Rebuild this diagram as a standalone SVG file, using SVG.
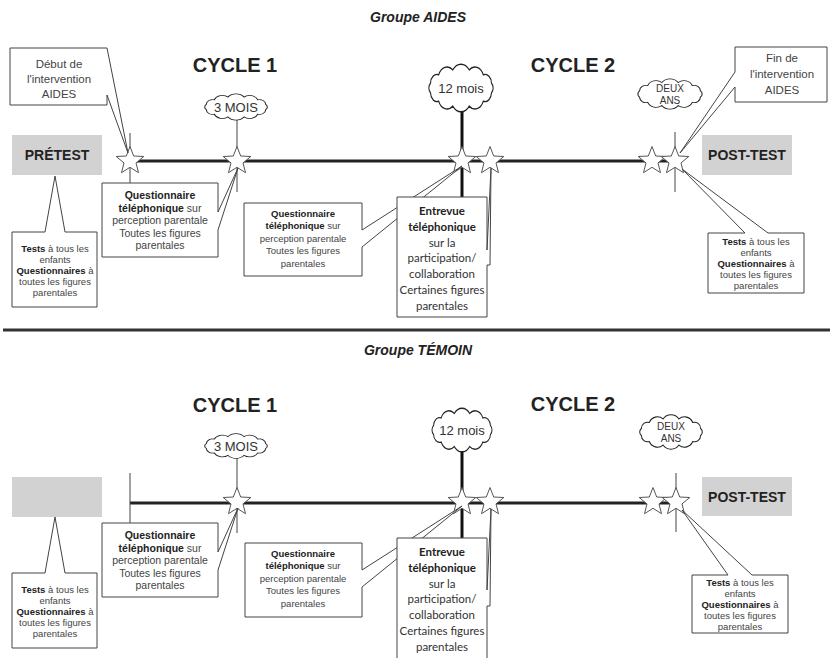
<svg xmlns="http://www.w3.org/2000/svg" xmlns:xlink="http://www.w3.org/1999/xlink" width="830" height="658" viewBox="0 0 830 658">
  <style>
    .title { font-family: "Liberation Sans", Arial, sans-serif; font-size: 14px; font-weight: bold; font-style: italic; fill: #222; text-anchor: middle; }
    .cycle { font-family: "Liberation Sans", Arial, sans-serif; font-size: 20px; font-weight: bold; fill: #222; text-anchor: middle; }
    .test { font-family: "Liberation Sans", Arial, sans-serif; font-size: 14px; font-weight: bold; fill: #222; text-anchor: middle; }
    .cloudtxt { font-family: "Liberation Sans", Arial, sans-serif; font-size: 13px; fill: #333; text-anchor: middle; }
    .small { font-family: "Liberation Sans", Arial, sans-serif; font-size: 10px; fill: #333; text-anchor: middle; }
    .note { font-family: "Liberation Sans", Arial, sans-serif; fill: #444; text-anchor: middle; }
    .entre { font-family: Lato, "Liberation Sans", sans-serif; font-size: 11.5px; fill: #333; text-anchor: middle; }
    .b { font-weight: bold; fill: #222; }
    .callout { fill: #fff; stroke: #444; stroke-width: 1; stroke-linejoin: miter; }
    .grey { fill: #d2d2d2; }
    .tick { stroke: #444; stroke-width: 1; fill: none; }
    .thick { stroke: #111; stroke-width: 3; fill: none; }
    .timeline { stroke: #222; stroke-width: 3; fill: none; }
    .star { fill: #fff; stroke: #555; stroke-width: 1; }
    .cloud { fill: #fff; stroke: #222; stroke-width: 1.4; vector-effect: non-scaling-stroke; }
  </style>
  <defs>
    <path id="star" d="M0,-14.5 L3.7,-5 L13.8,-4.5 L6,1.9 L8.5,11.7 L0,6.3 L-8.5,11.7 L-6,1.9 L-13.8,-4.5 L-3.7,-5 Z"/>
    <path id="cloud" d="M-40.6,-4.7 A8.5,8.5 0 0 1 -29.7,-12.7 A12,12 0 0 1 -10.9,-17.4 A13.5,13.5 0 0 1 10.9,-17.4 A12,12 0 0 1 29.7,-12.7 A8.5,8.5 0 0 1 40.6,-4.7 A6,6 0 0 1 40.6,4.7 A8.5,8.5 0 0 1 29.7,12.7 A12,12 0 0 1 10.9,17.4 A13.5,13.5 0 0 1 -10.9,17.4 A12,12 0 0 1 -29.7,12.7 A8.5,8.5 0 0 1 -40.6,4.7 A6,6 0 0 1 -40.6,-4.7 Z"/>
  </defs>

  <!-- headings and group separator -->
  <text class="title" x="418" y="22">Groupe AIDES</text>
  <text class="title" x="418" y="355">Groupe TÉMOIN</text>
  <line x1="3" y1="330" x2="830" y2="330" stroke="#333" stroke-width="3"/>

  <!-- timelines and marker lines -->
  <g id="connectors">
    <line class="timeline" x1="130" y1="161" x2="675" y2="161"/>
    <line class="tick" x1="130" y1="133" x2="130" y2="184"/>
    <line class="tick" x1="237" y1="120" x2="237" y2="192"/>
    <line class="thick" x1="462" y1="112" x2="462" y2="197"/>
    <line class="tick" x1="675" y1="132" x2="675" y2="192"/>

    <line class="timeline" x1="130" y1="503" x2="676" y2="503"/>
    <line class="tick" x1="130" y1="473" x2="130" y2="523"/>
    <line class="tick" x1="237" y1="457" x2="237" y2="533"/>
    <line class="thick" x1="462" y1="452" x2="462" y2="538"/>
    <line class="tick" x1="676" y1="473" x2="676" y2="532"/>
  </g>

  <!-- AIDES group -->
  <g id="aides-cycle-labels">
    <text class="cycle" x="235" y="72">CYCLE 1</text>
    <text class="cycle" x="573" y="72">CYCLE 2</text>
  </g>
  <g id="aides-stars">
    <use xlink:href="#star" class="star" x="130" y="161"/>
    <use xlink:href="#star" class="star" x="237" y="161"/>
    <use xlink:href="#star" class="star" x="462" y="161"/>
    <use xlink:href="#star" class="star" x="490" y="161"/>
    <use xlink:href="#star" class="star" x="652" y="161"/>
    <use xlink:href="#star" class="star" x="675" y="161"/>
  </g>
  <g id="aides-3mois">
    <use xlink:href="#cloud" class="cloud" transform="translate(236,107) scale(0.73,0.57)"/>
    <text class="cloudtxt" x="236" y="112">3 MOIS</text>
  </g>
  <g id="aides-12mois">
    <use xlink:href="#cloud" class="cloud" transform="translate(461,88) scale(0.75,1.04)"/>
    <text class="cloudtxt" x="461" y="93">12 mois</text>
  </g>
  <g id="aides-deuxans">
    <use xlink:href="#cloud" class="cloud" transform="translate(670,94) scale(0.75,0.66)"/>
    <text class="small" x="670" y="92">DEUX</text>
    <text class="small" x="670" y="104">ANS</text>
  </g>
  <g id="aides-pretest">
    <rect class="grey" x="12" y="135" width="90" height="40"/>
    <text class="test" x="57" y="160">PRÉTEST</text>
  </g>
  <g id="aides-posttest">
    <rect class="grey" x="702" y="135" width="90" height="40"/>
    <text class="test" x="747" y="160">POST-TEST</text>
  </g>
  <g id="aides-debut">
    <path class="callout" d="M10,48 L107,48 L128,153 L107,95 L107,105 L10,105 Z"/>
    <text class="note" font-size="11.5" x="59" y="68">Début de</text>
    <text class="note" font-size="11.5" x="59" y="83">l'intervention</text>
    <text class="note" font-size="11.5" x="59" y="98">AIDES</text>
  </g>
  <g id="aides-fin">
    <path class="callout" d="M735,47 L827,47 L827,102 L735,102 L735,87 L680,153 L735,72 Z"/>
    <text class="note" font-size="11.5" x="782" y="62">Fin de</text>
    <text class="note" font-size="11.5" x="782" y="78">l'intervention</text>
    <text class="note" font-size="11.5" x="782" y="94">AIDES</text>
  </g>
  <g id="aides-tests-pre">
    <path class="callout" d="M12,232 L45,232 L55,176 L65,232 L97,232 L97,307 L12,307 Z"/>
    <text class="note" font-size="9.5" x="55" y="251.5"><tspan class="b">Tests</tspan> à tous les</text>
    <text class="note" font-size="9.5" x="55" y="262.5">enfants</text>
    <text class="note" font-size="9.5" x="55" y="273.5"><tspan class="b">Questionnaires</tspan> à</text>
    <text class="note" font-size="9.5" x="55" y="284.5">toutes les figures</text>
    <text class="note" font-size="9.5" x="55" y="295.5">parentales</text>
  </g>
  <g id="aides-quest-3mois">
    <path class="callout" d="M102,183 L218,183 L218,212 L238,168 L218,230 L218,257 L102,257 Z"/>
    <text class="note" font-size="10.5" x="160" y="199"><tspan class="b">Questionnaire</tspan></text>
    <text class="note" font-size="10.5" x="160" y="211.5"><tspan class="b">téléphonique</tspan> sur</text>
    <text class="note" font-size="10.5" x="160" y="224">perception parentale</text>
    <text class="note" font-size="10.5" x="160" y="236.5">Toutes les figures</text>
    <text class="note" font-size="10.5" x="160" y="249">parentales</text>
  </g>
  <g id="aides-quest-12mois">
    <path class="callout" d="M244,203 L362,203 L362,230 L462,166 L362,247 L362,276 L244,276 Z"/>
    <text class="note" font-size="9.5" x="303" y="216.5"><tspan class="b">Questionnaire</tspan></text>
    <text class="note" font-size="9.5" x="303" y="229"><tspan class="b">téléphonique</tspan> sur</text>
    <text class="note" font-size="9.5" x="303" y="241.5">perception parentale</text>
    <text class="note" font-size="9.5" x="303" y="254">Toutes les figures</text>
    <text class="note" font-size="9.5" x="303" y="266.5">parentales</text>
  </g>
  <g id="aides-entrevue">
    <path class="callout" d="M397,197 L487,197 L487,250 L491,168 L490,265 L487,265 L487,317 L397,317 Z"/>
    <text class="entre b" x="442" y="215">Entrevue</text>
    <text class="entre b" x="442" y="231">téléphonique</text>
    <text class="entre" x="442" y="247">sur la</text>
    <text class="entre" x="442" y="262">participation/</text>
    <text class="entre" x="442" y="278">collaboration</text>
    <text class="entre" x="442" y="294">Certaines figures</text>
    <text class="entre" x="442" y="310">parentales</text>
  </g>
  <g id="aides-tests-post">
    <path class="callout" d="M708,233 L745,233 L682,169 L768,233 L804,233 L804,293 L708,293 Z"/>
    <text class="note" font-size="9.5" x="756" y="244.5"><tspan class="b">Tests</tspan> à tous les</text>
    <text class="note" font-size="9.5" x="756" y="255.5">enfants</text>
    <text class="note" font-size="9.5" x="756" y="266.5"><tspan class="b">Questionnaires</tspan> à</text>
    <text class="note" font-size="9.5" x="756" y="277.5">toutes les figures</text>
    <text class="note" font-size="9.5" x="756" y="288.5">parentales</text>
  </g>

  <!-- TÉMOIN group -->
  <g id="temoin-cycle-labels">
    <text class="cycle" x="235" y="412">CYCLE 1</text>
    <text class="cycle" x="573" y="411">CYCLE 2</text>
  </g>
  <g id="temoin-stars">
    <use xlink:href="#star" class="star" x="237" y="502"/>
    <use xlink:href="#star" class="star" x="462" y="502"/>
    <use xlink:href="#star" class="star" x="490" y="502"/>
    <use xlink:href="#star" class="star" x="653" y="502"/>
    <use xlink:href="#star" class="star" x="676" y="502"/>
  </g>
  <g id="temoin-3mois">
    <use xlink:href="#cloud" class="cloud" transform="translate(236,446) scale(0.73,0.54)"/>
    <text class="cloudtxt" x="236" y="451">3 MOIS</text>
  </g>
  <g id="temoin-12mois">
    <use xlink:href="#cloud" class="cloud" transform="translate(462,430) scale(0.7,0.95)"/>
    <text class="cloudtxt" x="462" y="435">12 mois</text>
  </g>
  <g id="temoin-deuxans">
    <use xlink:href="#cloud" class="cloud" transform="translate(671,432) scale(0.73,0.75)"/>
    <text class="small" x="671" y="430">DEUX</text>
    <text class="small" x="671" y="442">ANS</text>
  </g>
  <g id="temoin-pretest">
    <rect class="grey" x="12" y="477" width="90" height="40"/>
  </g>
  <g id="temoin-posttest">
    <rect class="grey" x="702" y="477" width="90" height="39"/>
    <text class="test" x="747" y="502">POST-TEST</text>
  </g>
  <g id="temoin-tests-pre">
    <path class="callout" d="M12,573 L45,573 L55,517 L65,573 L97,573 L97,648 L12,648 Z"/>
    <text class="note" font-size="9.5" x="55" y="592.5"><tspan class="b">Tests</tspan> à tous les</text>
    <text class="note" font-size="9.5" x="55" y="603.5">enfants</text>
    <text class="note" font-size="9.5" x="55" y="614.5"><tspan class="b">Questionnaires</tspan> à</text>
    <text class="note" font-size="9.5" x="55" y="625.5">toutes les figures</text>
    <text class="note" font-size="9.5" x="55" y="636.5">parentales</text>
  </g>
  <g id="temoin-quest-3mois">
    <path class="callout" d="M102,523 L218,523 L218,552 L238,508 L218,570 L218,597 L102,597 Z"/>
    <text class="note" font-size="10.5" x="160" y="539"><tspan class="b">Questionnaire</tspan></text>
    <text class="note" font-size="10.5" x="160" y="551.5"><tspan class="b">téléphonique</tspan> sur</text>
    <text class="note" font-size="10.5" x="160" y="564">perception parentale</text>
    <text class="note" font-size="10.5" x="160" y="576.5">Toutes les figures</text>
    <text class="note" font-size="10.5" x="160" y="589">parentales</text>
  </g>
  <g id="temoin-quest-12mois">
    <path class="callout" d="M245,543 L362,543 L362,570 L462,506 L362,587 L362,617 L245,617 Z"/>
    <text class="note" font-size="9.5" x="303" y="556.5"><tspan class="b">Questionnaire</tspan></text>
    <text class="note" font-size="9.5" x="303" y="569"><tspan class="b">téléphonique</tspan> sur</text>
    <text class="note" font-size="9.5" x="303" y="581.5">perception parentale</text>
    <text class="note" font-size="9.5" x="303" y="594">Toutes les figures</text>
    <text class="note" font-size="9.5" x="303" y="606.5">parentales</text>
  </g>
  <g id="temoin-entrevue">
    <path class="callout" d="M397,538 L487,538 L487,590 L491,509 L490,606 L487,606 L487,662 L397,662 Z"/>
    <text class="entre b" x="442" y="556">Entrevue</text>
    <text class="entre b" x="442" y="572">téléphonique</text>
    <text class="entre" x="442" y="588">sur la</text>
    <text class="entre" x="442" y="603">participation/</text>
    <text class="entre" x="442" y="619">collaboration</text>
    <text class="entre" x="442" y="635">Certaines figures</text>
    <text class="entre" x="442" y="651">parentales</text>
  </g>
  <g id="temoin-tests-post">
    <path class="callout" d="M692,575 L728,575 L682,510 L752,575 L788,575 L788,633 L692,633 Z"/>
    <text class="note" font-size="9.5" x="740" y="585.5"><tspan class="b">Tests</tspan> à tous les</text>
    <text class="note" font-size="9.5" x="740" y="596.5">enfants</text>
    <text class="note" font-size="9.5" x="740" y="607.5"><tspan class="b">Questionnaires</tspan> à</text>
    <text class="note" font-size="9.5" x="740" y="618.5">toutes les figures</text>
    <text class="note" font-size="9.5" x="740" y="629.5">parentales</text>
  </g>
</svg>
